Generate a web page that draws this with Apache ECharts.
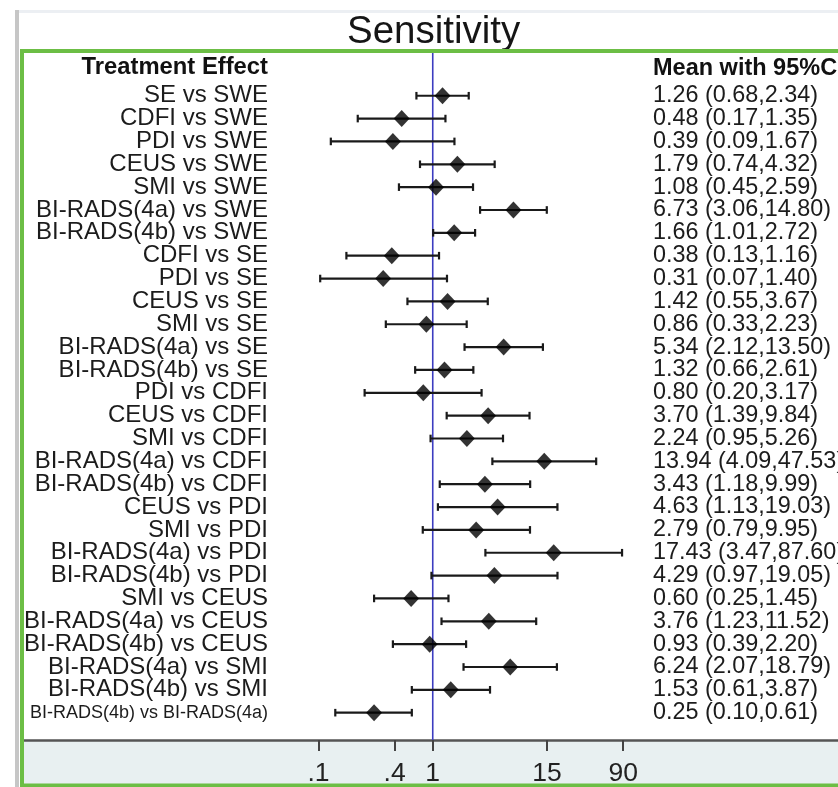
<!DOCTYPE html>
<html>
<head>
<meta charset="utf-8">
<title>Sensitivity</title>
<script src="https://cdn.jsdelivr.net/npm/echarts@6/dist/echarts.min.js"></script>
<style>
html, body { margin: 0; padding: 0; background: #fff; }
#main { width: 838px; height: 787px; }
</style>
</head>
<body>
<div id="main"></div>
<script>
var comparisons = [
    'SE vs SWE', 'CDFI vs SWE', 'PDI vs SWE', 'CEUS vs SWE', 'SMI vs SWE',
    'BI-RADS(4a) vs SWE', 'BI-RADS(4b) vs SWE', 'CDFI vs SE', 'PDI vs SE',
    'CEUS vs SE', 'SMI vs SE', 'BI-RADS(4a) vs SE', 'BI-RADS(4b) vs SE',
    'PDI vs CDFI', 'CEUS vs CDFI', 'SMI vs CDFI', 'BI-RADS(4a) vs CDFI',
    'BI-RADS(4b) vs CDFI', 'CEUS vs PDI', 'SMI vs PDI', 'BI-RADS(4a) vs PDI',
    'BI-RADS(4b) vs PDI', 'SMI vs CEUS', 'BI-RADS(4a) vs CEUS',
    'BI-RADS(4b) vs CEUS', 'BI-RADS(4a) vs SMI', 'BI-RADS(4b) vs SMI',
    'BI-RADS(4b) vs BI-RADS(4a)'
];
var means = [1.26, 0.48, 0.39, 1.79, 1.08, 6.73, 1.66, 0.38, 0.31, 1.42, 0.86, 5.34, 1.32, 0.80,
    3.70, 2.24, 13.94, 3.43, 4.63, 2.79, 17.43, 4.29, 0.60, 3.76, 0.93, 6.24, 1.53, 0.25];
var lows = [0.68, 0.17, 0.09, 0.74, 0.45, 3.06, 1.01, 0.13, 0.07, 0.55, 0.33, 2.12, 0.66, 0.20,
    1.39, 0.95, 4.09, 1.18, 1.13, 0.79, 3.47, 0.97, 0.25, 1.23, 0.39, 2.07, 0.61, 0.10];
var highs = [2.34, 1.35, 1.67, 4.32, 2.59, 14.80, 2.72, 1.16, 1.40, 3.67, 2.23, 13.50, 2.61, 3.17,
    9.84, 5.26, 47.53, 9.99, 19.03, 9.95, 87.60, 19.05, 1.45, 11.52, 2.20, 18.79, 3.87, 0.61];

// ticks sit at exp(-2.7), exp(-0.9), 1, exp(2.7), exp(4.5)
var tickValues = [0.0672, 0.4066, 1, 14.88, 90.02];
var tickLabels = ['.1', '.4', '1', '15', '90'];
var refValue = 1;

var font = "'Liberation Sans', Arial, sans-serif";
var xMin = 6.1e-5, xMax = 1.44e4;

var dom = document.getElementById('main');
var myChart = echarts.init(dom);

function tickLabel(v) {
    for (var i = 0; i < tickValues.length; i++) {
        if (Math.abs(tickValues[i] - v) < 1e-6 * Math.max(1, v)) return tickLabels[i];
    }
    return '';
}

var barData = comparisons.map(function (c, i) { return [i, lows[i], highs[i]]; });
var pointData = comparisons.map(function (c, i) { return [means[i], i]; });

var option = {
    animation: false,
    backgroundColor: '#ffffff',
    title: {
        text: 'Sensitivity',
        left: 347,
        top: 13,
        padding: 0,
        textStyle: { fontFamily: font, fontSize: 38.5, fontWeight: 'normal', color: '#151515' }
    },
    grid: [
        { left: 22, right: 0, top: 84.3, bottom: 62.9, containLabel: false, outerBoundsMode: 'none' },
        { left: 22, right: 0, top: 53, bottom: 47, containLabel: false, outerBoundsMode: 'none' }
    ],
    xAxis: [
        { gridIndex: 0, type: 'log', min: xMin, max: xMax, show: false },
        {
            gridIndex: 1, type: 'log', min: xMin, max: xMax,
            axisLine: { lineStyle: { color: '#555', width: 2.5 } },
            axisTick: { customValues: tickValues, length: 11, lineStyle: { color: '#444', width: 2 } },
            minorTick: { show: false },
            splitLine: { show: false },
            axisLabel: {
                customValues: tickValues,
                formatter: tickLabel,
                margin: 20,
                fontFamily: font,
                fontSize: 26.5,
                color: '#222'
            }
        }
    ],
    yAxis: [
        {
            gridIndex: 0, type: 'category', data: comparisons, inverse: true,
            position: 'left', offset: -248,
            axisLine: { show: false }, axisTick: { show: false },
            axisLabel: {
                interval: 0, margin: 2, fontFamily: font, fontSize: 24, color: '#1c1c1c',
                formatter: function (v) { return v.length > 22 ? '{small|' + v + '}' : v; },
                rich: { small: { fontFamily: font, fontSize: 18, color: '#1c1c1c' } }
            }
        },
        { gridIndex: 1, type: 'value', min: 0, max: 1, show: false },
        {
            gridIndex: 0, type: 'category', data: comparisons, inverse: true,
            position: 'right', offset: -185,
            axisLine: { show: false }, axisTick: { show: false },
            axisLabel: {
                interval: 0, margin: 0, fontFamily: font, fontSize: 23.4, color: '#1c1c1c',
                formatter: function (v, i) {
                    return means[i].toFixed(2) + ' (' + lows[i].toFixed(2) + ',' + highs[i].toFixed(2) + ')';
                }
            }
        }
    ],
    graphic: [
        { type: 'rect', z: -1, shape: { x: 15, y: 10, width: 823, height: 3 }, style: { fill: '#eceff3' } },
        { type: 'rect', z: -1, shape: { x: 15, y: 10, width: 4, height: 777 }, style: { fill: '#c6c6c6' } },
        { type: 'rect', z: -1, shape: { x: 22, y: 740, width: 816, height: 45 }, style: { fill: '#e8f0f1' } },
        {
            type: 'text', z: 5,
            style: { text: 'Treatment Effect', x: 268, y: 67.5, align: 'right', verticalAlign: 'middle',
                textAlign: 'right', textVerticalAlign: 'middle',
                font: 'bold 23.8px ' + font, fill: '#111' }
        },
        {
            type: 'text', z: 5,
            style: { text: 'Mean with 95%CI', x: 653, y: 69, align: 'left', verticalAlign: 'middle',
                textAlign: 'left', textVerticalAlign: 'middle',
                font: 'bold 23.5px ' + font, fill: '#111' }
        },
        {
            type: 'rect', z: 10,
            shape: { x: 22, y: 51, width: 840, height: 734.5 },
            style: { fill: 'transparent', stroke: '#6cbe45', lineWidth: 4 }
        }
    ],
    series: [
        {
            type: 'line', xAxisIndex: 1, yAxisIndex: 1, z: 1,
            data: [[refValue, 0], [refValue, 1]],
            showSymbol: false, symbol: 'none',
            lineStyle: { color: '#3c3cc0', width: 1.6 }
        },
        {
            type: 'custom', xAxisIndex: 0, yAxisIndex: 0, z: 2,
            data: barData,
            encode: { x: [1, 2], y: 0 },
            renderItem: function (params, api) {
                var y = api.value(0);
                var p1 = api.coord([api.value(1), y]);
                var p2 = api.coord([api.value(2), y]);
                var cap = 3.8;
                var style = { stroke: '#1a1a1a', lineWidth: 2.2 };
                return {
                    type: 'group',
                    children: [
                        { type: 'line', shape: { x1: p1[0], y1: p1[1], x2: p2[0], y2: p2[1] }, style: style },
                        { type: 'line', shape: { x1: p1[0], y1: p1[1] - cap, x2: p1[0], y2: p1[1] + cap }, style: style },
                        { type: 'line', shape: { x1: p2[0], y1: p2[1] - cap, x2: p2[0], y2: p2[1] + cap }, style: style }
                    ]
                };
            }
        },
        {
            type: 'scatter', xAxisIndex: 0, yAxisIndex: 0, z: 3,
            data: pointData,
            symbol: 'diamond', symbolSize: [16, 17],
            itemStyle: { color: '#000' }
        }
    ]
};

if (option && typeof option === 'object') {
    myChart.setOption(option);
}
</script>
</body>
</html>
